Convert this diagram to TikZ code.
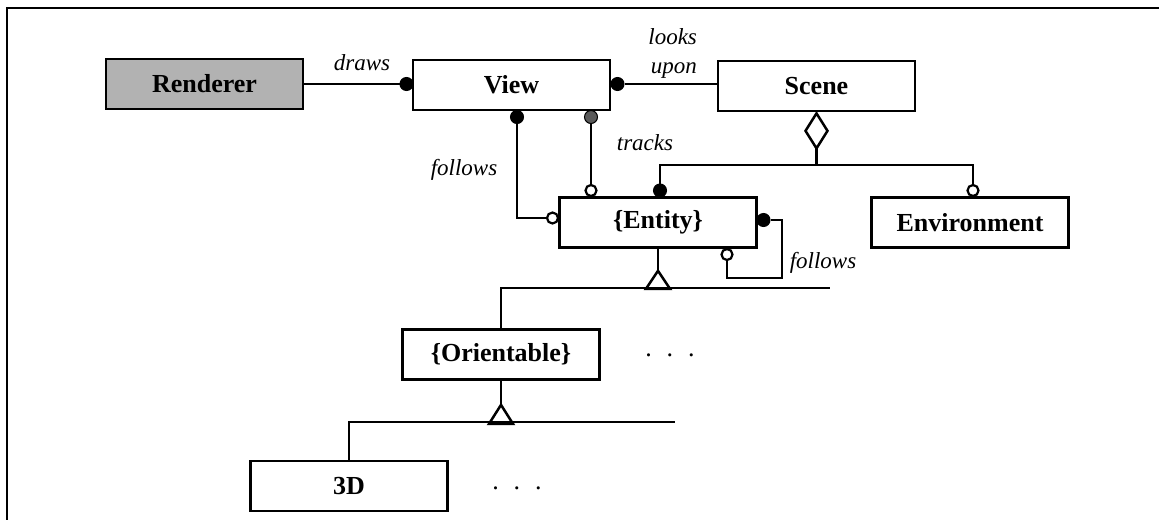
\documentclass[tikz,border=0pt]{standalone}
\usepackage{fontspec}
\setmainfont{Liberation Serif}
\usetikzlibrary{calc}
\begin{document}
\begin{tikzpicture}[x=1pt,y=-1pt, line width=2.2pt,
  box/.style={draw, line width=2.7pt, minimum width=197pt, minimum height=50pt, inner sep=0pt, font=\fontsize{26}{30}\selectfont\bfseries},
  lbl/.style={font=\fontsize{23}{29}\selectfont\itshape, inner sep=0pt},
  fdot/.style={circle, fill=black, draw=black, line width=1pt, minimum size=13pt, inner sep=0pt},
  gdot/.style={circle, fill=black!65, draw=black, line width=1pt, minimum size=13pt, inner sep=0pt},
  odot/.style={circle, fill=white, draw=black, line width=2.2pt, minimum size=11pt, inner sep=0pt},
  dots/.style={font=\fontsize{26}{30}\selectfont, inner sep=0pt}
]
\useasboundingbox (0,0) rectangle (1159,520);
% frame
\draw[line width=2.5pt] (1159,8) -- (7,8) -- (7,520);

% boxes
\node[box, fill=black!30] (ren) at (204.5,84) {Renderer};
\node[box] (view) at (511.5,85) {View};
\node[box] (scene) at (816.5,86) {Scene};
\node[box] (ent) at (658,222.5) {\{Entity\}};
\node[box] (env) at (970,222.5) {Environment};
\node[box] (ori) at (501,354.5) {\{Orientable\}};
\node[box] (d3) at (349,486) {3D};

% Renderer - View
\node[fdot] (vl) at (406.5,84) {};
\draw (ren.east |- vl) -- (vl);
\node[lbl] (ldraws) at (362,63) {draws};

% View - Scene
\node[fdot] (vr) at (617.5,84) {};
\draw (vr) -- (scene.west |- vr);
\node[lbl, align=right, anchor=east] (llooks) at (698,53) {looks\\upon};

% View follows Entity
\node[fdot] (vb1) at (517,117) {};
\node[odot] (el) at (552.5,218) {};
\draw (vb1) |- (el);
\node[lbl] (lfol1) at (464,170) {follows};

% View tracks Entity
\node[gdot] (vb2) at (591,117) {};
\node[odot] (et) at (591,190.5) {};
\draw (vb2) -- (et);
\node[lbl] (ltracks) at (645,143) {tracks};

% Scene aggregation
\coordinate (dtop) at ($(scene.south)+(0,1)$);
\coordinate (dbot) at ($(scene.south)+(0,36)$);
\draw[line width=2.5pt] (dtop) -- ++(11,17.5) -- (dbot) -- ++(-11,-17.5) -- cycle;
\coordinate (bus) at (816.5,165);
\draw (dbot) -- (bus);
\node[fdot] (ef) at (660,190.5) {};
\node[odot] (envt) at (973,190.5) {};
\draw (ef) |- (bus) -| (envt);

% Entity self loop
\node[fdot] (er) at (763.5,220) {};
\node[odot] (eb) at (727,254.5) {};
\coordinate (lp1) at (782,278);
\draw (er) -| (lp1) -| (eb);
\node[lbl] (lfol2) at (823,263) {follows};

% Entity inheritance
\coordinate (t1) at ($(ent.south)+(0,22)$);
\draw (ent.south) -- (t1);
\draw[line width=2.5pt] (t1) -- ++(-12,18) -- ++(24,0) -- cycle;
\coordinate (b1L) at (501,288);
\coordinate (b1R) at (830,288);
\draw (ori.north) -- (b1L) -- (b1R);
\node[dots] (e1) at (670,355) {.\hspace{15pt}.\hspace{15pt}.};

% Orientable inheritance
\coordinate (t2) at ($(ori.south)+(0,24)$);
\draw (ori.south) -- (t2);
\draw[line width=2.5pt] (t2) -- ++(-12,19) -- ++(24,0) -- cycle;
\coordinate (b2L) at (349,422);
\coordinate (b2R) at (675,422);
\draw (d3.north) -- (b2L) -- (b2R);
\node[dots] (e2) at (517,488) {.\hspace{15pt}.\hspace{15pt}.};
\end{tikzpicture}
\end{document}
